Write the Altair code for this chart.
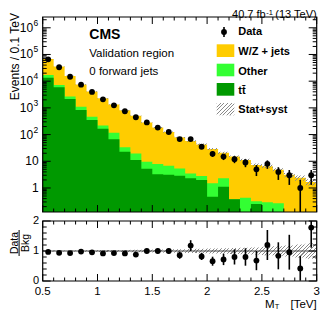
import altair as alt
import numpy as np
import pandas as pd

# ---------------- data ----------------
bin_lo = [0.5, 0.6, 0.7, 0.8, 0.9, 1.0, 1.1, 1.2, 1.3, 1.4, 1.5, 1.6, 1.7,
          1.8, 1.9, 2.0, 2.1, 2.2, 2.3, 2.4, 2.5, 2.6, 2.7, 2.8, 2.9]
bin_hi_last = 3.0
data_counts = [65800, 33300, 14700, 7430, 3950, 2090, 1250, 746, 445, 285, 183, 125,
               68, 68, 35, 19, 15, 12, 9, 5, 8, 4, 3, 1, 3]
data_err = [257, 182, 121, 86, 63, 46, 35, 27, 21, 17, 13.5, 11.2,
            8.2, 8.2, 5.9, 4.4, 3.9, 3.5, 3.0, 2.2, 2.8, 2.0, 1.7, 1.0, 1.7]
wz_jets = [50900, 28140, 13150, 6470, 3673, 2050, 1223, 777, 486, 275, 175, 118,
           73.6, 54.1, 39.9, 27.3, 18.5, 14.6, 10.8, 7.0, 6.2, 4.5, 3.1, 2.4, 1.69]
other = [3500, 1380, 510, 271, 115, 54, 50, 11.1, 8.5, 4.5, 4.6, 3.7,
         2.5, 1.2, 0.8, 1.03, 1.2, 0.0, 0.43, 0.07, 0.29, 0.27, 0, 0, 0]
ttbar = [13400, 5880, 2140, 839, 352, 166, 66.6, 22.6, 11.2, 5.2, 3.3, 3.1,
         2.9, 2.3, 2.0, 0.47, 1.1, 0.38, 0, 0.25, 0, 0, 0, 0, 0]
bkg_unc = [0.02, 0.02, 0.02, 0.025, 0.025, 0.03, 0.03, 0.035, 0.04, 0.045, 0.05, 0.055,
           0.06, 0.07, 0.075, 0.08, 0.09, 0.10, 0.11, 0.12, 0.14, 0.16, 0.18, 0.22, 0.26]
ratio = [0.97, 0.94, 0.93, 0.98, 0.955, 0.92, 0.93, 0.92, 0.88, 1.0, 1.0, 1.0,
         0.86, 1.18, 0.82, 0.66, 0.72, 0.80, 0.80, 0.68, 1.2, 0.84, 0.96, 0.42, 1.78]
ratio_err = [0.005, 0.006, 0.009, 0.012, 0.016, 0.022, 0.028, 0.035, 0.045, 0.06, 0.075, 0.09,
             0.12, 0.18, 0.12, 0.15, 0.19, 0.25, 0.29, 0.32, 0.5, 0.45, 0.58, 0.41, 0.67]

x_major = [0.5, 1.0, 1.5, 2.0, 2.5, 3.0]
x_major_labels = ["0.5", "1", "1.5", "2", "2.5", "3"]
y_sup_values = [100, 1e3, 1e4, 1e5, 1e6]
y_sup_labels = ["2", "3", "4", "5", "6"]
y_plain_values = [1, 10]
y_plain_labels = ["1", "10"]
r_major = [0, 1, 2]
r_major_labels = ["0", "1", "2"]

# ---------------- layout constants ----------------
W = 274
H_MAIN = 195
R_TOP, R_BOT = 204, 264
LOG_LO, LOG_HI = -0.9, 6.404
FONT = "Liberation Sans"
C_WZ, C_OTHER, C_TT = "#ffcc00", "#33ff33", "#009900"

xs = alt.Scale(domain=[0.5, 3.0], range=[0, W], nice=False, zero=False)
ys_main = alt.Scale(type="log", domain=[10 ** LOG_LO, 10 ** LOG_HI], range=[H_MAIN, 0],
                    clamp=True, nice=False)
ys_ratio = alt.Scale(domain=[0, 2], range=[R_BOT, R_TOP], clamp=True, nice=False, zero=False)


def X(f="x"):
    return alt.X(f"{f}:Q", scale=xs, axis=None)


def YM(f):
    return alt.Y(f"{f}:Q", scale=ys_main, axis=None)


def YR(f):
    return alt.Y(f"{f}:Q", scale=ys_ratio, axis=None)


def hatch(w, h, period=3.6, lw=1.1, color="#8a8a8a"):
    L = w + h
    stops = []
    i = 0
    while True:
        t0 = i * period / L
        if t0 >= 1:
            break
        t1 = min((i * period + lw) / L, 1.0)
        stops += [alt.GradientStop(offset=t0, color="rgba(255,255,255,0)"),
                  alt.GradientStop(offset=t0, color=color),
                  alt.GradientStop(offset=t1, color=color),
                  alt.GradientStop(offset=t1, color="rgba(255,255,255,0)")]
        i += 1
    r = h / w
    a = (1 + r) / (1 + r * r)
    return alt.LinearGradient(gradient="linear", stops=stops, x1=0, y1=0, x2=a, y2=a * r)


# ---------------- tables ----------------
centers = [round(b + 0.05, 2) for b in bin_lo]
tt_arr = np.array(ttbar, float)
oth_arr = tt_arr + np.array(other, float)
all_arr = oth_arr + np.array(wz_jets, float)
unc = np.array(bkg_unc)
FLOOR = 1e-3


def step_df(vals, vals2=None):
    xs_ = list(bin_lo) + [bin_hi_last]
    v = list(vals) + [vals[-1]]
    d = {"x": xs_, "y": [max(a, FLOOR) for a in v]}
    if vals2 is not None:
        v2 = list(vals2) + [vals2[-1]]
        d["y2"] = [max(a, FLOOR) for a in v2]
    return pd.DataFrame(d)


df_all = step_df(all_arr)
df_oth = step_df(oth_arr)
df_tt = step_df(tt_arr)
df_band = step_df(all_arr * (1 + unc), all_arr * (1 - unc))
df_rband = step_df(1 + unc, 1 - unc)

df_data = pd.DataFrame({"x": centers, "y": data_counts,
                        "lo": [max(d - e, FLOOR) for d, e in zip(data_counts, data_err)],
                        "hi": [d + e for d, e in zip(data_counts, data_err)]})
df_ratio = pd.DataFrame({"x": centers, "y": ratio,
                         "lo": [r - e for r, e in zip(ratio, ratio_err)],
                         "hi": [r + e for r, e in zip(ratio, ratio_err)]})


def ypix_main(v):
    return H_MAIN * (LOG_HI - np.log10(v)) / (LOG_HI - LOG_LO)


band_h_main = ypix_main(min(all_arr * (1 - unc))) - ypix_main(max(all_arr * (1 + unc)))
band_h_ratio = 2 * max(bkg_unc) * (R_BOT - R_TOP) / 2.0

# ---------------- main panel ----------------
area_kw = dict(interpolate="step-after", opacity=1)
m_wz = alt.Chart(df_all).mark_area(color=C_WZ, **area_kw).encode(x=X(), y=YM("y"), y2=alt.value(H_MAIN))
m_oth = alt.Chart(df_oth).mark_area(color=C_OTHER, **area_kw).encode(x=X(), y=YM("y"), y2=alt.value(H_MAIN))
m_tt = alt.Chart(df_tt).mark_area(color=C_TT, **area_kw).encode(x=X(), y=YM("y"), y2=alt.value(H_MAIN))
m_band = alt.Chart(df_band).mark_area(interpolate="step-after",
                                      fill=hatch(W, band_h_main)).encode(
    x=X(), y=YM("y"), y2=alt.Y2("y2:Q"))
m_err = alt.Chart(df_data).mark_rule(color="black", strokeWidth=1.6).encode(
    x=X(), y=YM("lo"), y2=alt.Y2("hi:Q"))
m_pts = alt.Chart(df_data).mark_circle(color="black", size=34, opacity=1).encode(x=X(), y=YM("y"))

maj = [10.0 ** k for k in range(0, 7)]
mnr = [m * 10.0 ** k for k in range(-1, 7) for m in range(2, 10)
       if 10 ** LOG_LO <= m * 10.0 ** k <= 10 ** LOG_HI]
df_ymaj = pd.DataFrame({"v": maj})
df_ymin = pd.DataFrame({"v": mnr})
tick_c = dict(color="black", strokeWidth=1)
m_t1 = alt.Chart(df_ymaj).mark_rule(**tick_c).encode(y=YM("v"), x=alt.value(0), x2=alt.value(8))
m_t2 = alt.Chart(df_ymaj).mark_rule(**tick_c).encode(y=YM("v"), x=alt.value(W), x2=alt.value(W - 8))
m_t3 = alt.Chart(df_ymin).mark_rule(**tick_c).encode(y=YM("v"), x=alt.value(0), x2=alt.value(4))
m_t4 = alt.Chart(df_ymin).mark_rule(**tick_c).encode(y=YM("v"), x=alt.value(W), x2=alt.value(W - 4))

df_lab_sup = pd.DataFrame({"v": y_sup_values, "s": y_sup_labels, "b": ["10"] * len(y_sup_values)})
df_lab_plain = pd.DataFrame({"v": y_plain_values, "s": y_plain_labels})
m_l1 = alt.Chart(df_lab_sup).mark_text(font=FONT, fontSize=12, align="right", baseline="middle").encode(
    y=YM("v"), x=alt.value(-9.6), text="b:N")
m_l2 = alt.Chart(df_lab_sup).mark_text(font=FONT, fontSize=8.5, align="left", baseline="middle", dy=-5).encode(
    y=YM("v"), x=alt.value(-9.3), text="s:N")
m_l3 = alt.Chart(df_lab_plain).mark_text(font=FONT, fontSize=12, align="right", baseline="middle").encode(
    y=YM("v"), x=alt.value(-4), text="s:N")

main = alt.layer(m_wz, m_oth, m_tt, m_band, m_err, m_pts, m_t1, m_t2, m_t3, m_t4, m_l1, m_l2, m_l3)

# ---------------- ratio panel ----------------
r_band = alt.Chart(df_rband).mark_area(interpolate="step-after",
                                       fill=hatch(W, band_h_ratio)).encode(
    x=X(), y=YR("y"), y2=alt.Y2("y2:Q"))
r_line = alt.Chart(pd.DataFrame({"v": [1.0]})).mark_rule(color="#444444", strokeWidth=1).encode(
    y=YR("v"), x=alt.value(0), x2=alt.value(W))
r_err = alt.Chart(df_ratio).mark_rule(color="black", strokeWidth=1.6).encode(
    x=X(), y=YR("lo"), y2=alt.Y2("hi:Q"))
r_pts = alt.Chart(df_ratio).mark_circle(color="black", size=34, opacity=1).encode(x=X(), y=YR("y"))
df_rmaj = pd.DataFrame({"v": r_major})
df_rmin = pd.DataFrame({"v": [0.2, 0.4, 0.6, 0.8, 1.2, 1.4, 1.6, 1.8]})
r_t1 = alt.Chart(df_rmaj).mark_rule(**tick_c).encode(y=YR("v"), x=alt.value(0), x2=alt.value(8))
r_t2 = alt.Chart(df_rmaj).mark_rule(**tick_c).encode(y=YR("v"), x=alt.value(W), x2=alt.value(W - 8))
r_t3 = alt.Chart(df_rmin).mark_rule(**tick_c).encode(y=YR("v"), x=alt.value(0), x2=alt.value(4))
r_t4 = alt.Chart(df_rmin).mark_rule(**tick_c).encode(y=YR("v"), x=alt.value(W), x2=alt.value(W - 4))
df_rlab = pd.DataFrame({"v": r_major, "s": r_major_labels})
r_lab = alt.Chart(df_rlab).mark_text(font=FONT, fontSize=11, align="right", baseline="middle").encode(
    y=YR("v"), x=alt.value(-3.5), text="s:N")

ratio_panel = alt.layer(r_band, r_line, r_err, r_pts, r_t1, r_t2, r_t3, r_t4, r_lab)

# ---------------- x ticks, frames, texts ----------------
x_minor = [round(0.5 + 0.1 * i, 1) for i in range(26)]
x_minor = [v for v in x_minor if v not in x_major]
df_xmaj = pd.DataFrame({"x": x_major, "s": x_major_labels})
df_xmin = pd.DataFrame({"x": x_minor})
deco = []
for (y0, d) in [(H_MAIN, -1), (0, 1), (R_BOT, -1), (R_TOP, 1)]:
    deco.append(alt.Chart(df_xmaj).mark_rule(**tick_c).encode(
        x=X(), y=alt.value(y0), y2=alt.value(y0 + d * 7)))
    deco.append(alt.Chart(df_xmin).mark_rule(**tick_c).encode(
        x=X(), y=alt.value(y0), y2=alt.value(y0 + d * 3.5)))
deco.append(alt.Chart(df_xmaj).mark_text(font=FONT, fontSize=11.5, align="center", baseline="middle").encode(
    x=X(), y=alt.value(275.3), text="s:N"))

one = pd.DataFrame({"a": [0]})
for (ya, yb) in [(0, H_MAIN), (R_TOP, R_BOT)]:
    deco.append(alt.Chart(one).mark_rect(fill="transparent", stroke="black", strokeWidth=1.2).encode(
        x=alt.value(0), x2=alt.value(W), y=alt.value(ya), y2=alt.value(yb)))


def txt(s, x, y, size=12, bold=False, align="left", baseline="alphabetic", angle=0):
    kw = dict(font=FONT, fontSize=size, align=align, baseline=baseline, color="black")
    if bold:
        kw["fontWeight"] = "bold"
    if angle:
        kw["angle"] = angle
    return alt.Chart(pd.DataFrame({"t": [s]})).mark_text(**kw).encode(
        x=alt.value(x), y=alt.value(y), text="t:N")


deco += [
    txt("CMS", 46.6, 21.7, 14, bold=True),
    txt("Validation region", 46.6, 40.3, 11.5),
    txt("0 forward jets", 46.6, 58.3, 11.5),
    txt("40.7 fb", 223, 1, 11, align="right"),
    txt("-1", 223.5, -2.1, 7.5),
    txt("(13 TeV)", 274, 1, 11, align="right"),
    txt("Events / 0.1 TeV", -23.5, -4, 12, align="right", angle=270),
    txt("Data", -24.9, 226, 10.5, align="center", angle=270),
    txt("Bkg", -14.2, 226, 10.5, align="center", angle=270),
    txt("M", 222.3, 291.4, 11.5),
    txt("T", 232, 292.4, 7.5),
    txt("[TeV]", 274, 291.4, 11.5, align="right"),
]
deco.append(alt.Chart(one).mark_rule(color="black", strokeWidth=1).encode(
    x=alt.value(-23.6), y=alt.value(213), y2=alt.value(239)))

# legend
LX0, LX1, LT = 174, 191.6, 195.6
deco.append(alt.Chart(one).mark_rule(color="black", strokeWidth=1.6).encode(
    x=alt.value(181.3), y=alt.value(10), y2=alt.value(20)))
deco.append(alt.Chart(one).mark_circle(color="black", size=34, opacity=1).encode(
    x=alt.value(181.3), y=alt.value(15)))
for (ya, yb, col) in [(27.3, 40, C_WZ), (46.7, 59.3, C_OTHER), (66, 78.7, C_TT)]:
    deco.append(alt.Chart(one).mark_rect(color=col, opacity=1).encode(
        x=alt.value(LX0), x2=alt.value(LX1), y=alt.value(ya), y2=alt.value(yb)))
deco.append(alt.Chart(one).mark_rect(fill=hatch(LX1 - LX0, 12.3)).encode(
    x=alt.value(LX0), x2=alt.value(LX1), y=alt.value(86), y2=alt.value(98.3)))
for (s, yb) in [("Data", 18.3), ("W/Z + jets", 38.3), ("Other", 57.7), ("tt\u0304", 76.7), ("Stat+syst", 96)]:
    deco.append(txt(s, LT, yb, 11, bold=True))

chart = alt.layer(main, ratio_panel, *deco).resolve_scale(y="independent").properties(
    width=W, height=R_BOT,
    autosize=alt.AutoSizeParams(type="none"),
    padding={"left": 34.7, "top": 9, "right": 7.3, "bottom": 30},
).configure_view(stroke=None)

chart.save("out.html", embed_options={"renderer": "svg", "actions": False})
